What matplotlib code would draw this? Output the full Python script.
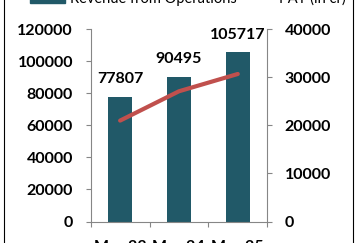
import matplotlib
matplotlib.use('Agg')
import matplotlib.pyplot as plt
from matplotlib.patches import Rectangle

categories = ['Mar-23', 'Mar-24', 'Mar-25']
revenue = [77807, 90495, 105717]
pat = [21000, 27100, 30700]
left_ticks = [0, 20000, 40000, 60000, 80000, 100000, 120000]
right_ticks = [0, 10000, 20000, 30000, 40000]
legend_labels = ['Revenue from Operations', 'PAT (in cr)']

BAR = '#215968'
LINE = '#C0504D'
GRAY = '#868686'

plt.rcParams['font.family'] = ['Lato', 'DejaVu Sans']
plt.rcParams['font.weight'] = 'bold'
plt.rcParams['font.size'] = 11.5

W, H = 356, 243
fig = plt.figure(figsize=(W / 100, H / 100), dpi=100)
ax = fig.add_axes([90.7 / W, 1 - 221.5 / H, (267.2 - 90.7) / W, (221.5 - 29.3) / H])

x = list(range(len(categories)))
ax.bar(x, revenue, width=0.41, color=BAR, zorder=2)
ax.set_xlim(-0.5, 2.5)
ax.set_ylim(0, 120000)
ax.set_yticks(left_ticks)
ax.set_yticklabels([str(t) for t in left_ticks])

ax2 = ax.twinx()
ax2.set_ylim(0, 40000)
ax2.set_yticks(right_ticks)
ax2.set_yticklabels([str(t) for t in right_ticks])
ax2.plot(x, pat, color=LINE, lw=3, solid_capstyle='round', zorder=3)

for a in (ax, ax2):
    for s in a.spines.values():
        s.set_color(GRAY)
        s.set_linewidth(0.8)
    a.spines['top'].set_visible(False)
ax.spines['right'].set_visible(False)
ax2.spines['left'].set_visible(False)
ax2.spines['bottom'].set_visible(False)

ax.set_xticks(x)
ax.set_xticklabels(categories)
ax.tick_params(axis='x', which='major', length=0, pad=13.2)
ax.set_xticks([-0.5, 0.5, 1.5, 2.5], minor=True)
ax.tick_params(axis='x', which='minor', length=3.6, width=0.8, color=GRAY, direction='out')
ax.tick_params(axis='y', length=3.6, width=0.8, color=GRAY, pad=9.1)
ax2.tick_params(axis='y', length=3.6, width=0.8, color=GRAY, pad=9.1)

for xi, v in zip(x, revenue):
    ax.annotate(str(v), (xi, v), xytext=(0, 9.7), textcoords='offset points',
                ha='center', va='baseline', fontsize=11.5, fontweight='bold')

# legend (top, partially cut off)
fig.patches.append(Rectangle((30 / W, 1 - 2.7 / H), 35 / W, 10 / H,
                             transform=fig.transFigure, color=BAR))
fig.text(70 / W, 1 - 2.5 / H, legend_labels[0], fontsize=10.5, fontweight='normal',
         va='baseline', ha='left')
fig.text(279 / W, 1 - 2.5 / H, legend_labels[1], fontsize=10.5, fontweight='normal',
         va='baseline', ha='left')

# chart border
fig.patches.append(Rectangle((4.3 / W, -0.1), (352.5 - 4.3) / W, 1.2,
                             transform=fig.transFigure, fill=False,
                             edgecolor='black', linewidth=0.8))

fig.savefig('out.png', dpi=100)
